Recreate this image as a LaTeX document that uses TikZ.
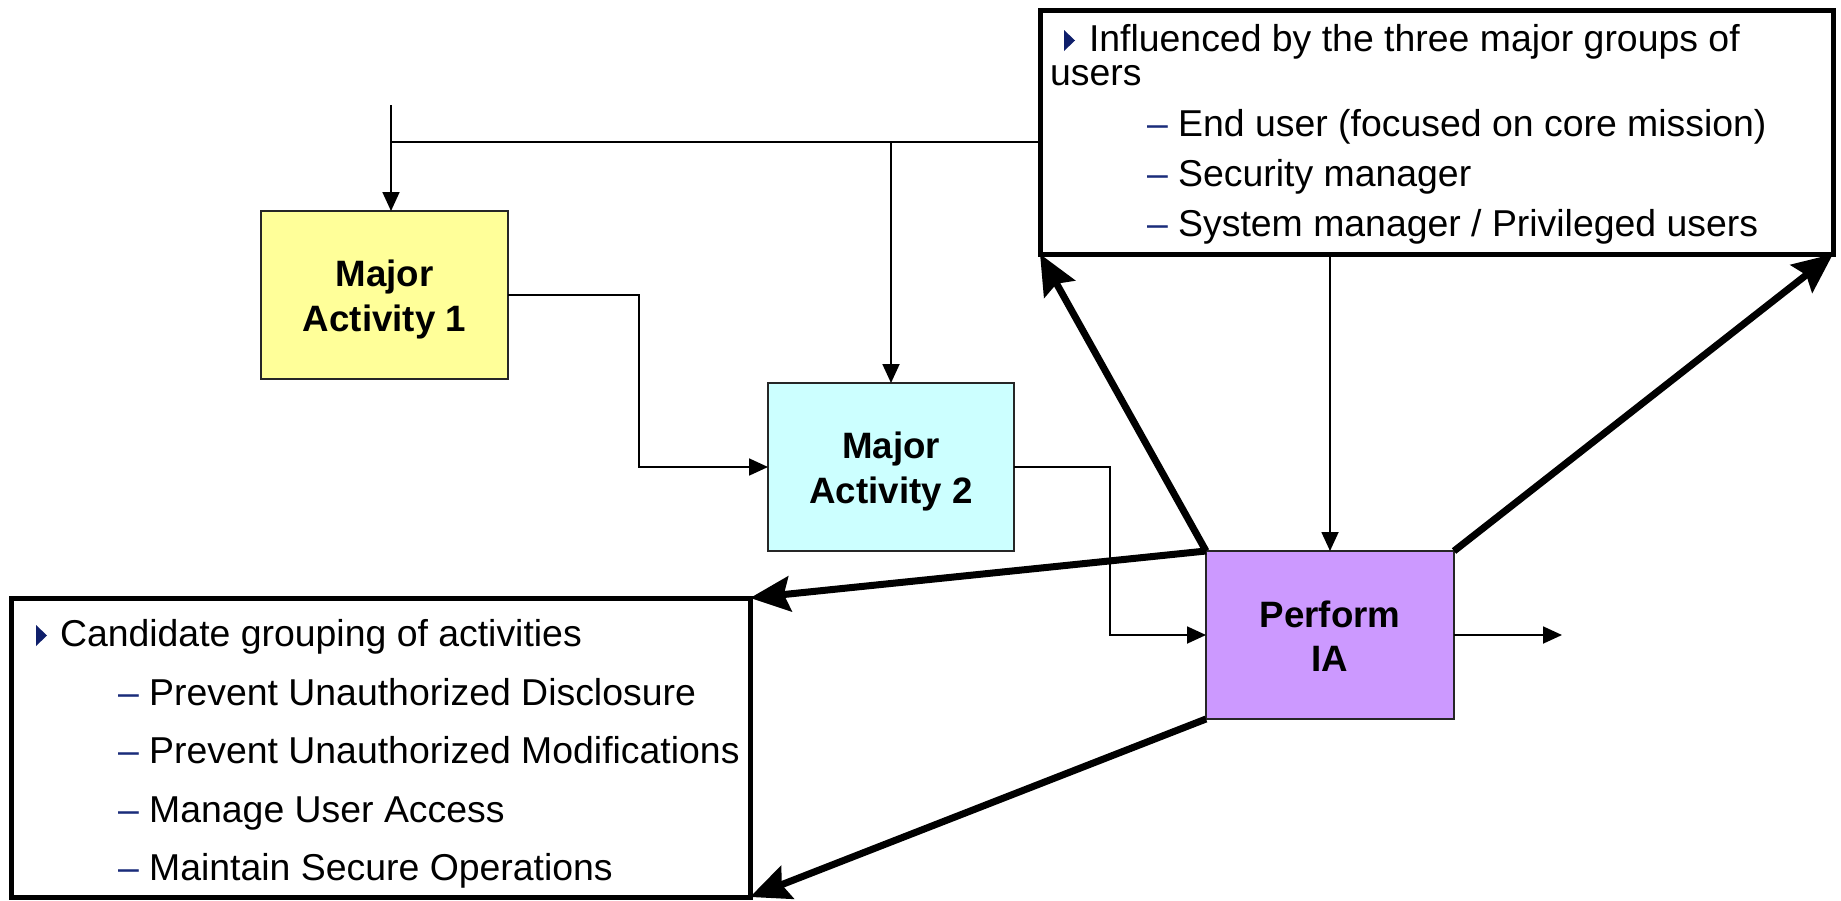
\documentclass[tikz,border=0pt]{standalone}
\usepackage{fontspec}
\setmainfont{Liberation Sans}
\usetikzlibrary{arrows.meta}
\definecolor{yel}{HTML}{FFFF99}
\definecolor{cyn}{HTML}{CCFFFF}
\definecolor{pur}{HTML}{CC99FF}
\definecolor{navy}{HTML}{0F1F6B}
\definecolor{dashc}{HTML}{1A2C7A}
\begin{document}
\begin{tikzpicture}[x=1pt,y=-1pt,
  actbox/.style={draw=black!85, line width=2pt, outer sep=0pt, inner sep=0pt, anchor=north west, align=center, font=\fontsize{36.7pt}{44.5pt}\selectfont\bfseries},
  framebox/.style={draw=black, line width=5pt, outer sep=0pt, inner sep=0pt, anchor=north west},
  txt/.style={anchor=base west, inner sep=0pt, outer sep=0pt, font=\fontsize{37.4pt}{44pt}\selectfont},
  smallarrow/.style={line width=1.8pt, -{Triangle[length=19pt,width=17pt]}},
  wire/.style={line width=1.8pt},
  bigarrow/.style={line width=7pt, -{Stealth[length=40pt,width=35pt,inset=6pt]}},
  bul/.style={fill=navy}
]
\useasboundingbox (0,0) rectangle (1841,900);

% frames
\node[framebox, minimum width=793pt, minimum height=244pt] (users) at (1040,10) {};
\node[framebox, minimum width=739pt, minimum height=299pt] (cand) at (11,598) {};

% activity boxes
\node[actbox, fill=yel, minimum width=247pt, minimum height=168pt] (ma1) at (261,211) {\rule{0pt}{36pt}Major\\Activity 1};
\node[actbox, fill=cyn, minimum width=246pt, minimum height=168pt] (ma2) at (768,383) {\rule{0pt}{36pt}Major\\Activity 2};
\node[actbox, fill=pur, minimum width=248pt, minimum height=168pt] (pia) at (1206,551) {\rule{0pt}{29pt}Perform\\IA};

% text of the users frame
\fill[bul] (1064,30) -- (1064,51) -- (1075,40.5) -- cycle;
\node[txt] (u0) at (1089,51) {Influenced by the three major groups of};
\node[txt] (u0b) at (1050,85) {users};
\node[txt] (u1) at (1147,136) {\textcolor{dashc}{–} End user (focused on core mission)};
\node[txt] (u2) at (1147,186) {\textcolor{dashc}{–} Security manager};
\node[txt] (u3) at (1147,236) {\textcolor{dashc}{–} System manager / Privileged users};

% text of the candidate frame
\fill[bul] (36,625) -- (36,646) -- (47,635.5) -- cycle;
\node[txt] (c0) at (60,646) {Candidate grouping of activities};
\node[txt] (c1) at (118,705) {\textcolor{dashc}{–} Prevent Unauthorized Disclosure};
\node[txt] (c2) at (118,763) {\textcolor{dashc}{–} Prevent Unauthorized Modifications};
\node[txt] (c3) at (118,822) {\textcolor{dashc}{–} Manage User Access};
\node[txt] (c4) at (118,880) {\textcolor{dashc}{–} Maintain Secure Operations};

% thin connectors
\coordinate (top) at (391,105);
\coordinate (j1) at (391,142);
\coordinate (j2) at (ma2.north |- j1);
\coordinate (e1) at (639,0);
\coordinate (e2) at (1110,0);
\coordinate (out) at (1562,635);
\draw[wire] (top) -- (j1) -- (j1 -| users.west);
\draw[smallarrow] (j1) -- (j1 |- ma1.north);
\draw[smallarrow] (j2) -- (ma2.north);
\draw[smallarrow] (ma1.east) -| (e1 |- ma2.west) -- (ma2.west);
\draw[smallarrow] (ma2.east) -| (e2 |- pia.west) -- (pia.west);
\draw[smallarrow] (pia.east) -- (out);
\draw[smallarrow] (pia.north |- users.south) -- (pia.north);

% thick arrows
\draw[bigarrow] (pia.north west) -- (users.south west);
\draw[bigarrow] (pia.north east) -- (users.south east);
\draw[bigarrow] (pia.north west) -- (cand.north east);
\draw[bigarrow] (pia.south west) -- (cand.south east);
\end{tikzpicture}
\end{document}
